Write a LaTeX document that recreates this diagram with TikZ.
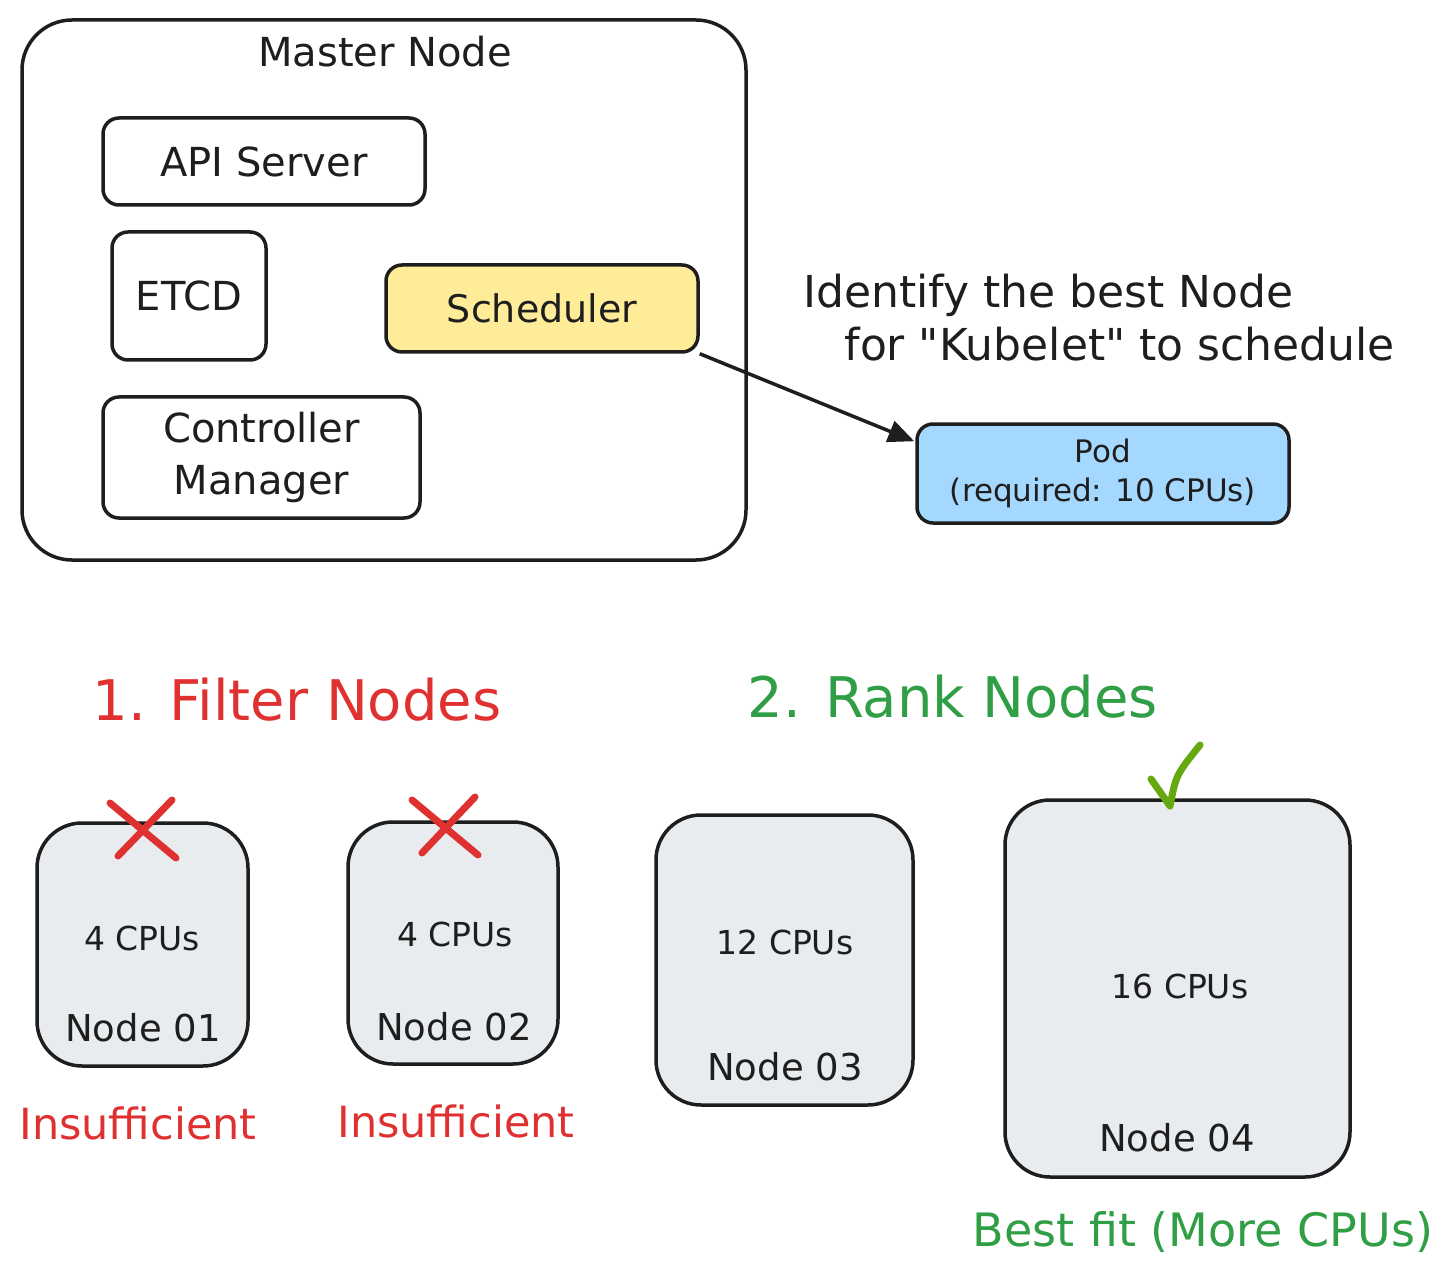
\documentclass[tikz,border=0pt]{standalone}
\usepackage{fontspec}
\setmainfont{DejaVu Sans}
\usetikzlibrary{arrows.meta}

\definecolor{ink}{HTML}{1E1E1E}
\definecolor{redink}{HTML}{E03131}
\definecolor{greenink}{HTML}{2F9E44}
\definecolor{checkink}{HTML}{66A80F}
\definecolor{schedfill}{HTML}{FFEC99}
\definecolor{podfill}{HTML}{A5D8FF}
\definecolor{nodegrey}{HTML}{E9ECEF}

\begin{document}
\begin{tikzpicture}[x=1pt,y=-1pt,
  box/.style={draw=ink,line width=3.5pt,rounded corners=16pt,inner sep=0pt},
  cpubox/.style={box,fill=nodegrey,rounded corners=45pt},
  cross/.style={draw=redink,line width=7pt,line cap=round},
  txt/.style={text=ink,font=\fontsize{40}{52}\selectfont},
  small/.style={text=ink,font=\fontsize{31}{39}\selectfont},
  cpus/.style={text=ink,font=\fontsize{33}{39}\selectfont},
  note/.style={font=\fontsize{43}{52}\selectfont},
  big/.style={font=\fontsize{56}{64}\selectfont}]
\useasboundingbox (0,0) rectangle (1452,1281);

% master node
\node [box,rounded corners=50pt,minimum width=724pt,minimum height=540pt] (master) at (384,290) {};
\node [txt] (mastertitle) at (385,52) {Master Node};
\node [box,minimum width=322pt,minimum height=87pt,txt] (api) at (264,161.5) {API Server};
\node [box,minimum width=154pt,minimum height=128pt,txt] (etcd) at (189,296) {ETCD};
\node [box,fill=schedfill,minimum width=312pt,minimum height=87pt,txt,font=\fontsize{38}{48}\selectfont] (sched) at (542,308.5) {Scheduler};
\node [box,minimum width=317pt,minimum height=121pt,txt,align=center] (ctrl) at (261.5,457.5) {Controller\\Manager};

% pod
\node [box,fill=podfill,minimum width=372pt,minimum height=99pt,small,align=center] (pod) at (1103,473.5) {Pod\\(required: 10 CPUs)};
\node [txt,font=\fontsize{44}{53}\selectfont,align=left,anchor=west] (goal) at (800,318) {Identify the best Node\\\hspace*{41pt}for \textquotedbl Kubelet\textquotedbl{} to schedule};
\draw [draw=ink,line width=3.5pt,-{Triangle[length=26pt,width=22pt]}] (sched.south east) -- ([shift={(-1,19)}]pod.north west);

% steps
\node [big,text=redink] (filter) at (297,700) {1. Filter Nodes};
\node [big,text=greenink] (rank) at (953,697) {2. Rank Nodes};

% worker nodes
\node [cpubox,minimum width=211pt,minimum height=243pt] (n01) at (142.5,944.5) {};
\node [cpubox,minimum width=210pt,minimum height=242pt] (n02) at (453,943) {};
\node [cpubox,minimum width=257pt,minimum height=290pt] (n03) at (784.5,960) {};
\node [cpubox,minimum width=345pt,minimum height=377pt] (n04) at (1177.5,988.5) {};

\node [cpus] (cpu01) at (142,938) {4 CPUs};
\node [cpus] (cpu02) at (455,934) {4 CPUs};
\node [cpus] (cpu03) at (785,942) {12 CPUs};
\node [cpus] (cpu04) at (1180,986) {16 CPUs};
\node [txt,font=\fontsize{37}{44}\selectfont] (name01) at (143,1028) {Node 01};
\node [txt,font=\fontsize{37}{44}\selectfont] (name02) at (454,1027) {Node 02};
\node [txt,font=\fontsize{37}{44}\selectfont] (name03) at (785,1067) {Node 03};
\node [txt,font=\fontsize{37}{44}\selectfont] (name04) at (1177,1138) {Node 04};

\node [note,text=redink] (bad01) at (138,1123) {Insufficient};
\node [note,text=redink] (bad02) at (456,1121) {Insufficient};
\node [note,text=greenink,font=\fontsize{46}{54}\selectfont] (best) at (1203,1232) {Best fit (More CPUs)};

% marks
\draw [cross] (110,803) -- (176,858);
\draw [cross] (172,800) -- (118,856);
\draw [cross] (412,800) -- (478,855);
\draw [cross] (475,797) -- (422,853);
\draw [draw=checkink,line width=7pt,line cap=round,line join=round] (1151,779) -- (1170,806) .. controls (1176,775) .. (1200,745);
\end{tikzpicture}
\end{document}
